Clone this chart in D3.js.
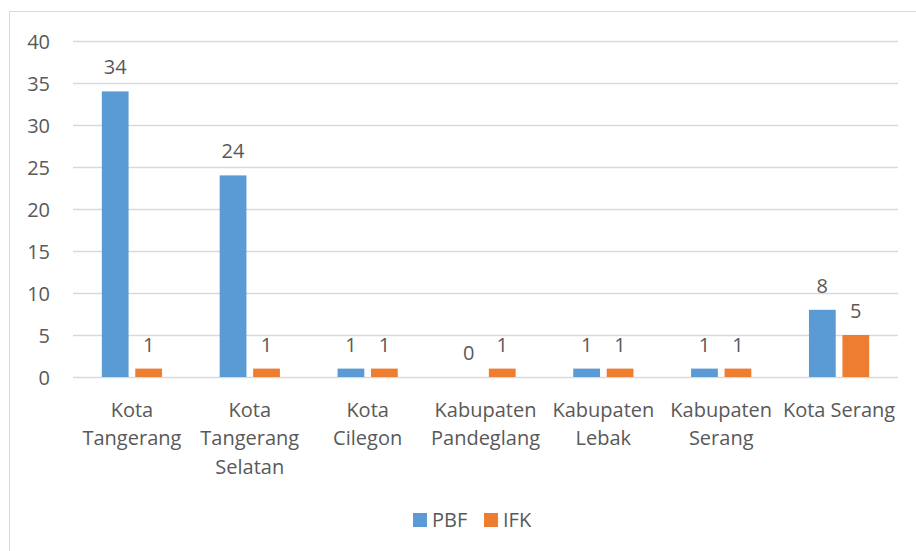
<!DOCTYPE html>
<html>
<head>
<meta charset="utf-8">
<script src="https://cdn.jsdelivr.net/npm/d3@7/dist/d3.min.js"></script>
<style>
  html, body { margin: 0; padding: 0; background: #fff; }
  svg { display: block; }
  text { font-family: "Open Sans", "Noto Sans", sans-serif; fill: #595959; }
</style>
</head>
<body>
<script>
const categories = ["Kota\nTangerang", "Kota\nTangerang\nSelatan", "Kota\nCilegon", "Kabupaten\nPandeglang", "Kabupaten\nLebak", "Kabupaten\nSerang", "Kota Serang"];
const seriesNames = ["PBF", "IFK"];
const pbfValues = [34, 24, 1, 0, 1, 1, 8];
const ifkValues = [1, 1, 1, 1, 1, 1, 5];
const yTicks = [0, 5, 10, 15, 20, 25, 30, 35, 40];
const colors = ["#5B9BD5", "#ED7D31"];

const W = 916, H = 551;
const svg = d3.select("body").append("svg").attr("width", W).attr("height", H);

// chart border
svg.append("rect").attr("x", 9.5).attr("y", 11.5).attr("width", W).attr("height", H)
  .attr("fill", "#fff").attr("stroke", "#d9d9d9").attr("stroke-width", 1);

const plot = { left: 73, right: 898, top: 41, bottom: 377 };
const y = d3.scaleLinear().domain([0, 40]).range([plot.bottom, plot.top]);
const x0 = d3.scaleBand().domain(categories).range([plot.left, plot.right]).padding(0);
const bw = x0.bandwidth();
const x1 = d3.scaleBand().domain(seriesNames).range([bw * 0.2445, bw * 0.7555]).paddingInner(0.2);

// gridlines
const yAxis = d3.axisLeft(y).tickValues(yTicks).tickSize(-(plot.right - plot.left)).tickPadding(23);
const gy = svg.append("g").attr("transform", `translate(${plot.left},0)`).call(yAxis);
gy.select(".domain").remove();
gy.selectAll(".tick line").attr("stroke", "#d9d9d9").attr("stroke-width", 1.3);
gy.selectAll(".tick text").attr("font-size", 20).attr("fill", "#595959")
  .attr("font-family", "'Open Sans', sans-serif").attr("dy", "0.36em");

const data = categories.map((c, i) => ({ cat: c, vals: [
  { s: "PBF", v: pbfValues[i], c: colors[0] },
  { s: "IFK", v: ifkValues[i], c: colors[1] }
]}));

const groups = svg.append("g").selectAll("g").data(data).join("g")
  .attr("transform", d => `translate(${x0(d.cat)},0)`);

groups.selectAll("rect").data(d => d.vals).join("rect")
  .attr("x", d => x1(d.s))
  .attr("width", x1.bandwidth())
  .attr("y", d => y(d.v))
  .attr("height", d => y(0) - y(d.v))
  .attr("fill", d => d.c);

groups.selectAll("text.lbl").data(d => d.vals).join("text").attr("class", "lbl")
  .attr("x", d => x1(d.s) + x1.bandwidth() / 2)
  .attr("y", d => y(d.v) - 17)
  .attr("text-anchor", "middle")
  .attr("font-size", 20)
  .text(d => d.v);

// category labels
const catG = svg.append("g");
categories.forEach(c => {
  const lines = c.split("\n");
  const t = catG.append("text").attr("text-anchor", "middle").attr("font-size", 20)
    .attr("x", x0(c) + bw / 2).attr("y", 417);
  lines.forEach((l, i) => {
    t.append("tspan").attr("x", x0(c) + bw / 2).attr("dy", i === 0 ? 0 : 28.3).text(l);
  });
});

// legend
const legend = svg.append("g");
const legX = [413, 484];
seriesNames.forEach((s, i) => {
  legend.append("rect").attr("x", legX[i]).attr("y", 513).attr("width", 14).attr("height", 14).attr("fill", colors[i]);
  legend.append("text").attr("x", legX[i] + 19).attr("y", 527).attr("font-size", 20).text(s);
});
</script>
</body>
</html>
